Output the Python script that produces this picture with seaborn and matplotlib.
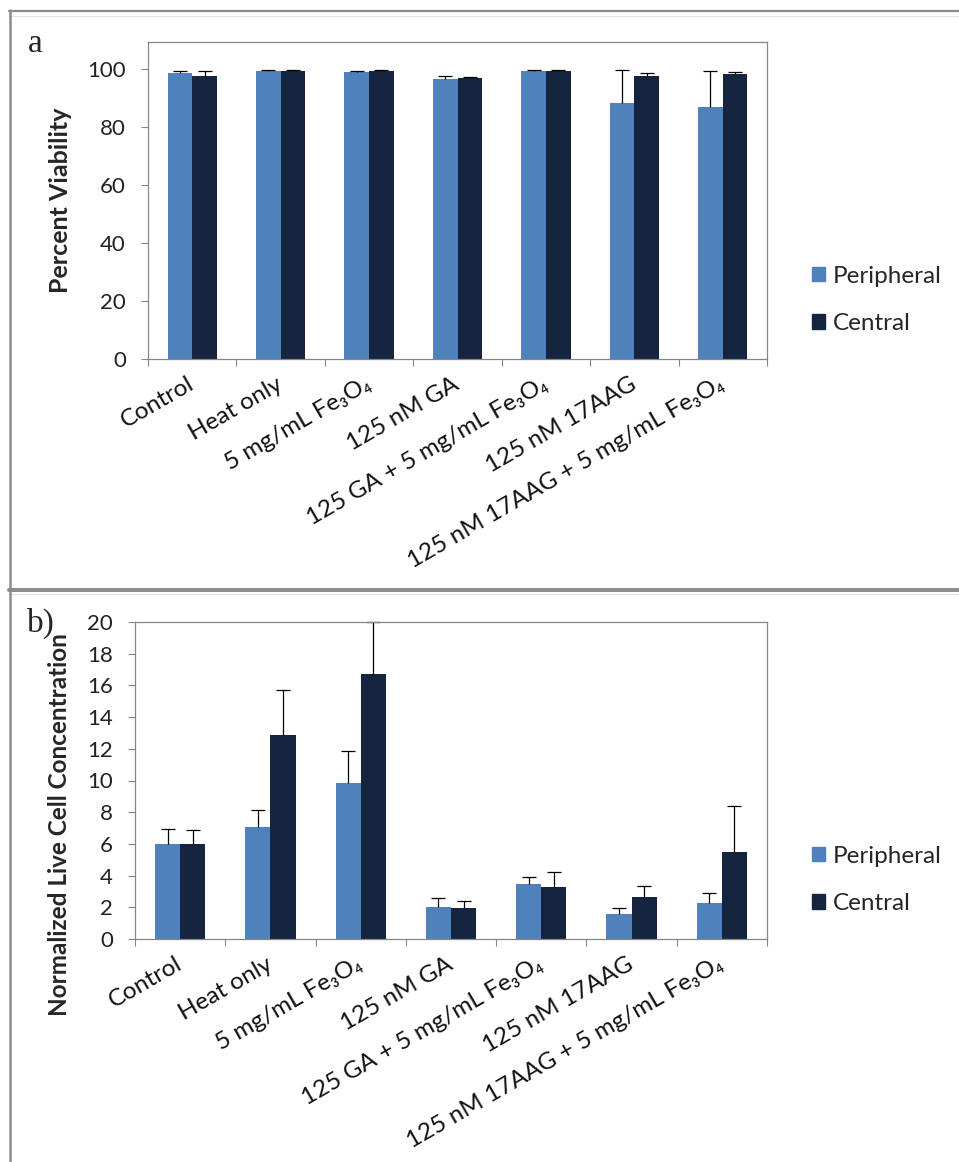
import numpy as np
import pandas as pd
import matplotlib
matplotlib.use("Agg")
import matplotlib.pyplot as plt
import seaborn as sns
from matplotlib.lines import Line2D

# ---- data -------------------------------------------------------------
treatments = [
    "Control",
    "Heat only",
    "5 mg/mL Fe₃O₄",
    "125 nM GA",
    "125 GA + 5 mg/mL Fe₃O₄",
    "125 nM 17AAG",
    "125 nM 17AAG + 5 mg/mL Fe₃O₄",
]
regions = ["Peripheral", "Central"]

viability_peripheral = [98.7, 99.4, 99.0, 96.4, 99.3, 88.4, 87.0]
viability_central = [97.6, 99.4, 99.2, 97.0, 99.2, 97.6, 98.2]
viability_err_peripheral = [0.7, 0.3, 0.4, 1.2, 0.3, 11.3, 12.4]
viability_err_central = [1.8, 0.3, 0.3, 0.3, 0.3, 0.9, 0.8]

live_peripheral = [6.0, 7.05, 9.83, 2.03, 3.45, 1.57, 2.26]
live_central = [6.0, 12.84, 16.69, 1.96, 3.30, 2.66, 5.52]
live_err_peripheral = [0.95, 1.12, 2.0, 0.54, 0.45, 0.36, 0.62]
live_err_central = [0.90, 2.89, 3.31, 0.46, 0.93, 0.70, 2.90]

viability_ticks = [0, 20, 40, 60, 80, 100]
live_ticks = list(range(0, 21, 2))

# ---- style ------------------------------------------------------------
sns.set_style("white")
plt.rcParams["font.family"] = ["Lato", "DejaVu Sans"]
colors = {"Peripheral": "#4f81bd", "Central": "#15253f"}
axis_grey = "#868686"
frame_grey = "#8c8c8c"

W, H = 959, 1162
fig = plt.figure(figsize=(W / 100, H / 100), dpi=100)


def px_axes(left, top, right, bottom):
    return fig.add_axes([left / W, 1 - bottom / H, (right - left) / W, (bottom - top) / H])


def draw_panel(ax, per, cen, per_err, cen_err, ymax, yticks, rot):
    df = pd.DataFrame({
        "treatment": treatments * 2,
        "region": ["Peripheral"] * len(treatments) + ["Central"] * len(treatments),
        "value": per + cen,
    })
    sns.barplot(data=df, x="treatment", y="value", hue="region",
                order=treatments, hue_order=regions, palette=colors,
                width=0.557, errorbar=None, saturation=1, linewidth=0,
                legend=False, ax=ax)
    for container, errs in zip(ax.containers, [per_err, cen_err]):
        xs = [b.get_x() + b.get_width() / 2 for b in container]
        ys = [b.get_height() for b in container]
        _, caps, _ = ax.errorbar(xs, ys, yerr=[np.zeros(len(errs)), errs],
                                 fmt="none", ecolor="black", elinewidth=0.9,
                                 capsize=5, capthick=0.9, clip_on=False)
        caps[0].set_visible(False)

    ax.set_xlim(-0.5, len(treatments) - 0.5)
    ax.set_ylim(0, ymax)
    ax.set_yticks(yticks)
    ax.set_yticklabels([str(t) for t in yticks], fontsize=16, color="#222222")
    ax.set_xticks(range(len(treatments)))
    ax.set_xticklabels(treatments, fontsize=17.5, rotation=rot, ha="right",
                       va="center", rotation_mode="anchor", color="#111111")
    ax.set_xticks(np.arange(-0.5, len(treatments)), minor=True)
    ax.tick_params(axis="x", which="major", length=0, pad=17)
    ax.tick_params(axis="x", which="minor", length=5, width=0.8,
                   color=axis_grey, direction="out", bottom=True)
    ax.tick_params(axis="y", length=5, width=0.8, color=axis_grey,
                   direction="out", left=True, pad=11)
    ax.set_xlabel("")
    for s in ax.spines.values():
        s.set_visible(True)
        s.set_color(axis_grey)
        s.set_linewidth(0.9)


# ---- panel a: percent viability ----------------------------------------
ax_a = px_axes(148, 42, 767, 359)
draw_panel(ax_a, viability_peripheral, viability_central,
           viability_err_peripheral, viability_err_central,
           109.3, viability_ticks, 30)
ax_a.set_ylabel("Percent Viability", fontsize=18, fontweight="bold")
ax_a.yaxis.set_label_coords(-0.123, 0.5)

# ---- panel b: normalized live cell concentration ------------------------
ax_b = px_axes(135, 622, 767, 939)
draw_panel(ax_b, live_peripheral, live_central,
           live_err_peripheral, live_err_central,
           20, live_ticks, 30)
ax_b.set_ylabel("Normalized Live Cell Concentration", fontsize=17.5, fontweight="bold")
ax_b.yaxis.set_label_coords(-0.102, 0.36)

# ---- legends ------------------------------------------------------------
for ax, cy in [(ax_a, 300), (ax_b, 880)]:
    handles = [plt.Rectangle((0, 0), 1, 1, color=colors[r]) for r in regions]
    fig.legend(handles, regions, loc="center left",
               bbox_to_anchor=(802 / W, 1 - cy / H), frameon=False,
               fontsize=17.5, handlelength=0.55, handleheight=0.55,
               handletextpad=0.3, labelspacing=1.1, borderaxespad=0)

# ---- panel letters ------------------------------------------------------
fig.text(28 / W, 1 - 52 / H, "a", fontsize=24, family="Liberation Serif",
         ha="left", va="baseline")
fig.text(27 / W, 1 - 632 / H, "b)", fontsize=24, family="Liberation Serif",
         ha="left", va="baseline")

# ---- surrounding frame --------------------------------------------------
def hline(y, lw, color):
    fig.add_artist(Line2D([9 / W, 1], [1 - y / H, 1 - y / H],
                          transform=fig.transFigure, color=color, lw=lw))

hline(11, 1.6, frame_grey)
hline(16, 0.8, "#e4e4e4")
hline(589.5, 2.9, frame_grey)
hline(594, 0.8, "#e4e4e4")
fig.add_artist(Line2D([9.5 / W, 9.5 / W], [1 - 10 / H, 0],
                      transform=fig.transFigure, color=frame_grey, lw=1.8))

fig.savefig("out.png", dpi=100)
